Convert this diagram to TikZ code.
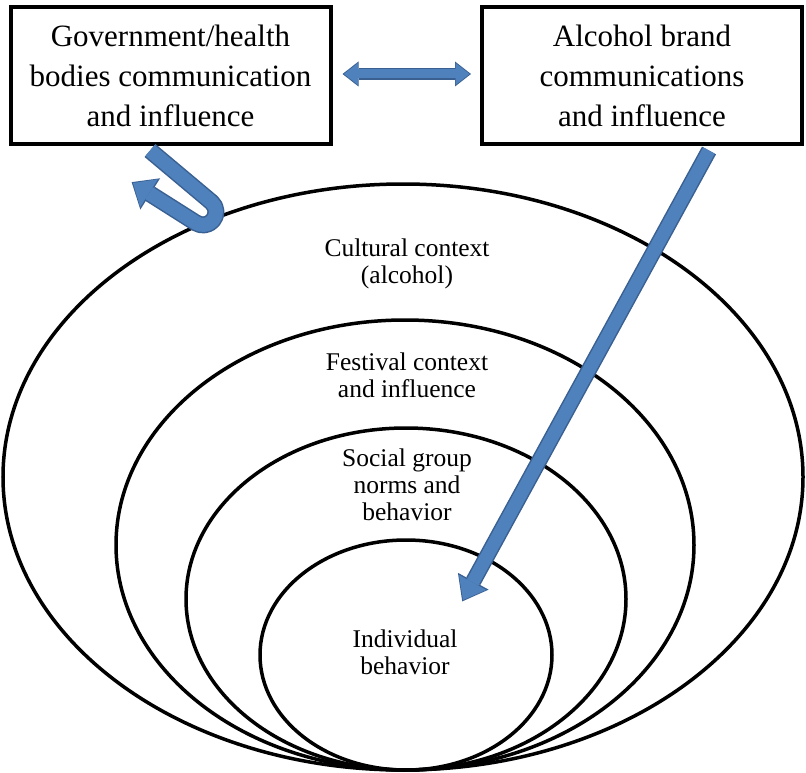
\documentclass[tikz,border=0pt]{standalone}
\usepackage{fontspec}
\setmainfont{Liberation Serif}
\usetikzlibrary{arrows.meta}
\definecolor{arrowblue}{RGB}{79,129,189}
\definecolor{arrowedge}{RGB}{58,96,145}
\begin{document}
\begin{tikzpicture}[x=1pt,y=-1pt,
  box/.style={draw=black, line width=4pt, fill=white, minimum width=320pt, minimum height=137pt, inner sep=0pt, align=center, font=\fontsize{31}{40}\selectfont},
  ring/.style={draw=black, line width=3.5pt},
  lbl/.style={align=center, inner sep=0pt, font=\fontsize{25.5}{27}\selectfont},
  bigedge/.style={draw=arrowedge, line width=16pt, shorten >=-1.6pt, -{Triangle[width=35pt,length=23pt,line width=0pt]}},
  bigarrow/.style={draw=arrowblue, line width=13pt, -{Triangle[width=31pt,length=20pt,line width=0pt]}},
  uedge/.style={draw=arrowedge, line width=17pt, line join=round, shorten >=-1.6pt, -{Triangle[width=37pt,length=22pt,line width=0pt]}},
  uarrow/.style={draw=arrowblue, line width=14pt, line join=round, -{Triangle[width=33pt,length=19pt,line width=0pt]}},
  dbledge/.style={draw=arrowedge, line width=12pt, {Triangle[width=25pt,length=16pt,line width=0pt]}-{Triangle[width=25pt,length=16pt,line width=0pt]}},
  dblarrow/.style={draw=arrowblue, line width=9pt, {Triangle[width=22pt,length=14pt,line width=0pt]}-{Triangle[width=22pt,length=14pt,line width=0pt]}}
]
\useasboundingbox (0,0) rectangle (806,773);
% rings
\draw[ring] (403,477) ellipse [x radius=400, y radius=293];
\draw[ring] (405,545) ellipse [x radius=289, y radius=225];
\draw[ring] (406,599) ellipse [x radius=220, y radius=171];
\draw[ring] (406,655) ellipse [x radius=146, y radius=115];
% labels
\node[lbl] (cult) at (407,263.5) {Cultural context\\(alcohol)};
\node[lbl] (fest) at (407,375) {Festival context\\and influence};
\node[lbl] (soc) at (407,485) {Social group\\norms and\\behavior};
\node[lbl] (ind) at (405,652) {Individual\\behavior};
% boxes
\node[box] (gov) at (170.5,76) {Government/health\\bodies communication\\and influence};
\node[box] (alc) at (642,76) {Alcohol brand\\communications\\and influence};
% arrows
\coordinate (indtip) at (463,600);
\coordinate (uturn) at (211.7,202.3);
\coordinate (utip) at (133,183);
\draw[bigedge] ([xshift=67pt,yshift=-4pt]alc.south) -- (indtip);
\draw[bigarrow] ([xshift=67pt,yshift=-4pt]alc.south) -- (indtip);
\draw[uedge] ([xshift=-20.5pt,yshift=-4pt]gov.south) -- (uturn) arc[start angle=-48, end angle=122, radius=13] -- (utip);
\draw[uarrow] ([xshift=-20.5pt,yshift=-4pt]gov.south) -- (uturn) arc[start angle=-48, end angle=122, radius=13] -- (utip);
\draw[dbledge, shorten <=10pt, shorten >=9pt] ([yshift=2pt]gov.east) -- ([yshift=2pt]alc.west);
\draw[dblarrow, shorten <=11.5pt, shorten >=10.5pt] ([yshift=2pt]gov.east) -- ([yshift=2pt]alc.west);
\end{tikzpicture}
\end{document}
